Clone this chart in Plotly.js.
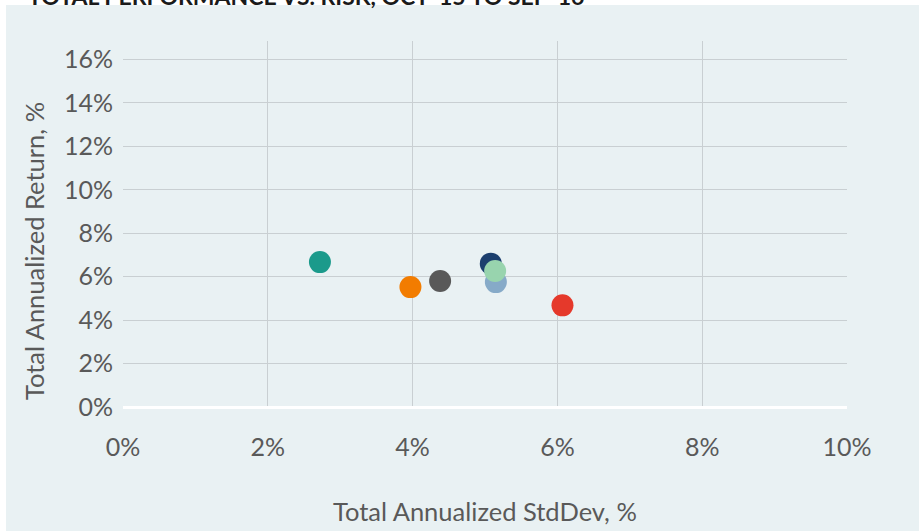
<!DOCTYPE html>
<html>
<head>
<meta charset="utf-8">
<script src="https://cdn.plot.ly/plotly-3.0.1.min.js"></script>
<style>
  html, body { margin: 0; padding: 0; background: #ffffff; }
  #chart { width: 919px; height: 531px; }
</style>
</head>
<body>
<div id="chart"></div>
<script>
// Data (percent)
const stdDev    = [2.72, 3.97, 4.38, 5.08, 5.15, 5.14, 6.07];
const annReturn = [6.67, 5.52, 5.80, 6.60, 5.75, 6.26, 4.68];
const pointColors = ['#1b9a8b', '#f27c00', '#595959', '#1c3f6e', '#86aac8', '#98d4ae', '#e5392b'];

const xTickVals = [0, 2, 4, 6, 8, 10];
const xGridVals = [2, 4, 6, 8];
const yTickVals = [0, 2, 4, 6, 8, 10, 12, 14, 16];

const chartTitle = "TOTAL PERFORMANCE VS. RISK, OCT '15 TO SEP '16";
const xTitle = 'Total Annualized StdDev, %';
const yTitle = 'Total Annualized Return, %';

const W = 919, H = 531;
const m = { l: 123, r: 72, t: 41, b: 124 };
const pw = W - m.l - m.r, ph = H - m.t - m.b;

const fontFam = 'Lato, "Open Sans", sans-serif';
const textColor = '#595959';
const panelColor = '#e9f1f3';
const gridColor = '#c9cfd2';

const traces = [
  { // carrier for the grid-only overlay axis (invisible)
    type: 'scatter', mode: 'markers',
    x: stdDev, y: annReturn,
    xaxis: 'x2', yaxis: 'y',
    marker: { size: 1, opacity: 0 },
    hoverinfo: 'skip', showlegend: false
  },
  {
    type: 'scatter',
    mode: 'markers',
    x: stdDev,
    y: annReturn,
    xaxis: 'x',
    yaxis: 'y',
    marker: { size: 22, color: pointColors, line: { width: 0 } },
    hoverinfo: 'skip',
    showlegend: false
  }
];

const layout = {
  width: W, height: H,
  margin: m,
  paper_bgcolor: '#ffffff',
  plot_bgcolor: 'rgba(0,0,0,0)',
  showlegend: false,
  font: { family: fontFam, color: textColor },
  title: {
    text: chartTitle,
    xref: 'container', yref: 'container',
    x: 28 / W, xanchor: 'left',
    y: 1 - 5 / H, yanchor: 'bottom',
    font: { family: fontFam, size: 23, color: '#1a1a1a', weight: 'bold' }
  },
  xaxis: {
    range: [0, 10],
    tickvals: xTickVals,
    ticktext: xTickVals.map(v => v + '%'),
    showgrid: false,
    zeroline: false,
    showline: false,
    ticks: '',
    ticklabelstandoff: 23,
    tickfont: { size: 25, color: textColor },
    automargin: false,
    fixedrange: true
  },
  xaxis2: {
    overlaying: 'x',
    anchor: 'y',
    range: [0, 10],
    tickvals: xGridVals,
    showticklabels: false,
    showgrid: true,
    gridcolor: gridColor,
    gridwidth: 1,
    zeroline: false,
    showline: false,
    ticks: '',
    fixedrange: true
  },
  yaxis: {
    range: [0, 16.85],
    tickvals: yTickVals,
    ticktext: yTickVals.map(v => v + '%'),
    showgrid: true,
    gridcolor: gridColor,
    gridwidth: 1,
    zeroline: true,
    zerolinecolor: '#ffffff',
    zerolinewidth: 3,
    showline: false,
    ticks: '',
    ticklabelstandoff: 9,
    tickfont: { size: 25, color: textColor },
    automargin: false,
    fixedrange: true
  },
  annotations: [
    {
      text: xTitle, showarrow: false,
      xref: 'paper', yref: 'paper',
      x: (485 - m.l) / pw, y: -(511 - (H - m.b)) / ph,
      xanchor: 'center', yanchor: 'middle',
      font: { family: fontFam, size: 25.5, color: textColor }
    },
    {
      text: yTitle, showarrow: false, textangle: -90,
      xref: 'paper', yref: 'paper',
      x: (34 - m.l) / pw, y: ((H - m.b) - 251) / ph,
      xanchor: 'center', yanchor: 'middle',
      font: { family: fontFam, size: 25.5, color: textColor }
    }
  ],
  shapes: [{
    type: 'rect', layer: 'below',
    xref: 'paper', yref: 'paper',
    x0: (6 - m.l) / pw, x1: (W - m.l) / pw + 0.01,
    y0: -(m.b) / ph - 0.01, y1: (H - m.b - 5) / ph,
    fillcolor: panelColor, line: { width: 0 }
  }]
};

Plotly.newPlot('chart', traces, layout, { displayModeBar: false, staticPlot: true });
</script>
</body>
</html>
